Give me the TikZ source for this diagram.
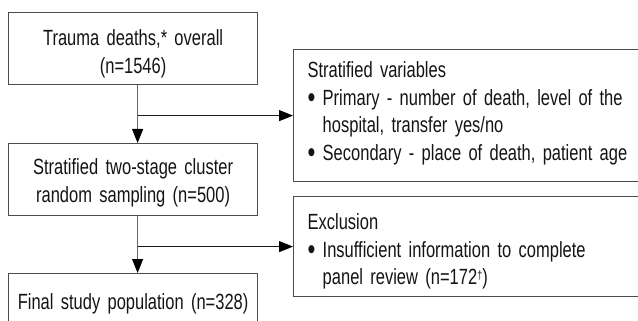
\documentclass[tikz,border=0pt]{standalone}
\usepackage{fontspec}
\setmainfont{Liberation Sans}[FakeStretch=0.75]
\usetikzlibrary{arrows.meta}
\newcommand{\bigbullet}{\raisebox{-0.1em}{\scalebox{1.35}{\textbullet}}}
\newcommand{\bulletskip}{\hphantom{\bigbullet\ }}
\begin{document}
\begin{tikzpicture}[x = 1pt, y = -1pt,
		box/.style = {draw = black!70, line width = 1.2pt, text = black!92, inner ysep = 0pt, font = \fontsize{22}{27.5}\selectfont},
		mainbox/.style = {box, anchor = north west, inner xsep = 0pt, text width = 249pt, align = center},
		sidebox/.style = {box, anchor = north west, inner xsep = 14pt, text width = 380pt, align = left},
		flow/.style = {draw = black!60, line width = 1pt, -{Triangle[length = 14pt, width = 11pt, color = black]}},
		branch/.style = {flow, draw = black!90}]
	\useasboundingbox (0,0) rectangle (638,321);
	\clip (0,0) rectangle (638,321);
	% left column
	\node[mainbox, text height = 33pt, text depth = 39pt] (total) at (8,12) {Trauma deaths,* overall\\(n=1546)};
	\node[mainbox, text height = 31pt, text depth = 41pt] (sampling) at (8,143) {Stratified two-stage cluster\\random sampling (n=500)};
	\node[mainbox, text height = 36pt, text depth = 30pt] (final) at (8,273) {Final study population (n=328)};
	% right column
	\node[sidebox, text height = 28pt, text depth = 104pt] (vars) at (293,49) {Stratified variables\\
		\bigbullet\ Primary - number of death, level of the\\
		\bulletskip hospital, transfer yes/no\\
		\bigbullet\ Secondary - place of death, patient age};
	\node[sidebox, text height = 33pt, text depth = 67pt] (excl) at (293,196) {Exclusion\\
		\bigbullet\ Insufficient information to complete\\
		\bulletskip panel review (n=172{\fontsize{12}{12}\selectfont\raisebox{0.45em}{\dag}})};
	% connectors
	\coordinate (split1) at ([xshift = 4.5pt]total.south);
	\coordinate (split2) at ([xshift = 4.5pt]sampling.south);
	\draw[flow] (split1) -- (split1 |- sampling.north);
	\draw[branch] (split1 |- vars.west) -- (vars.west);
	\draw[flow] (split2) -- (split2 |- final.north);
	\draw[branch] (split2 |- excl.west) -- (excl.west);
\end{tikzpicture}
\end{document}
